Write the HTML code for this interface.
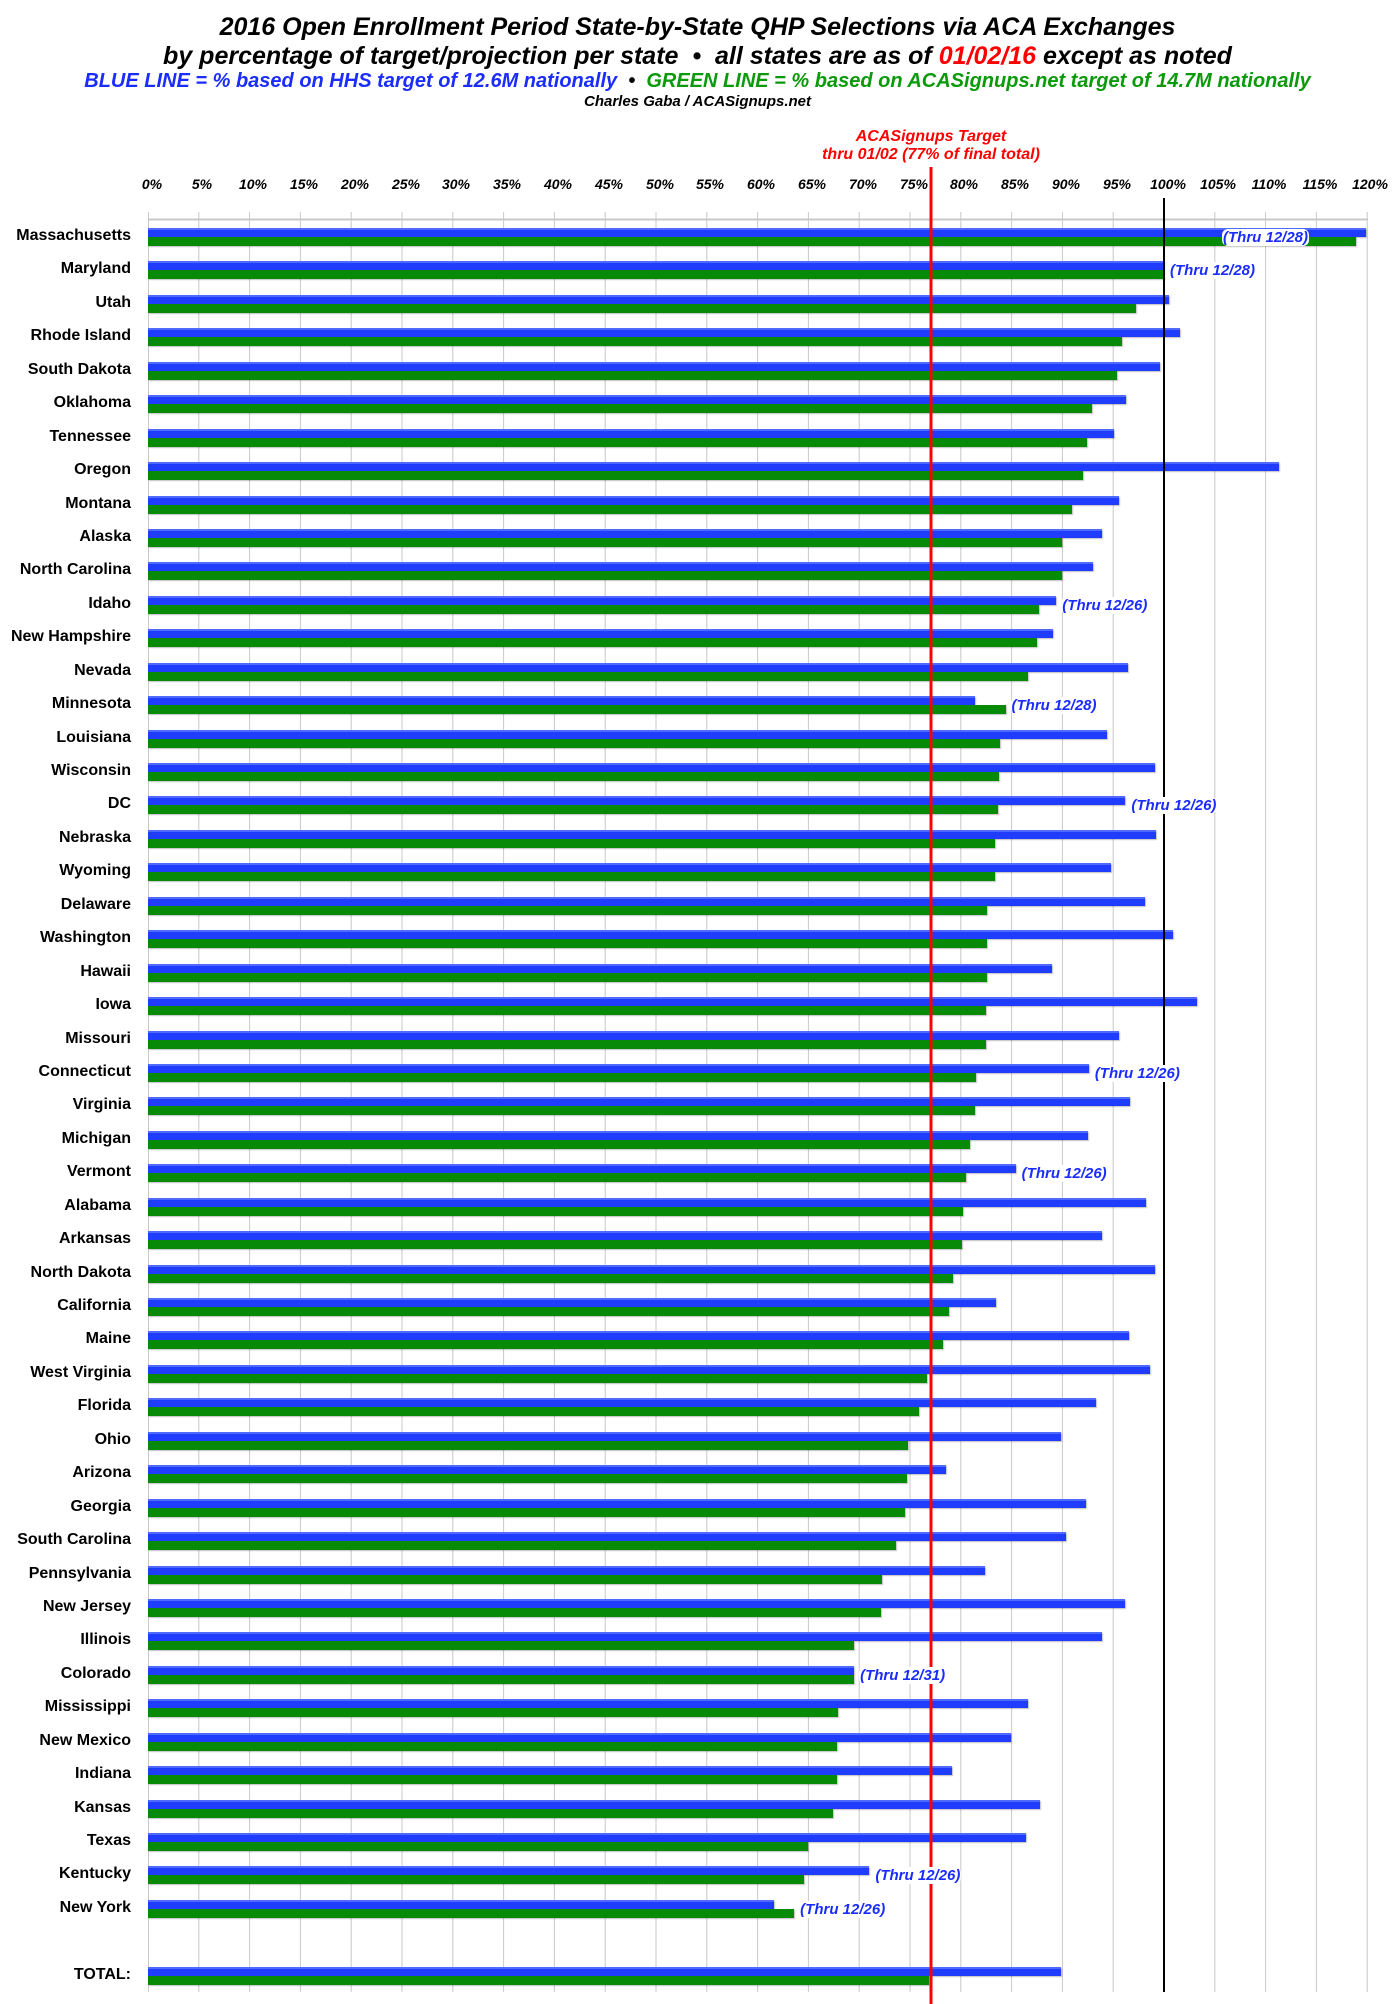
<!DOCTYPE html>
<html><head><meta charset="utf-8">
<style>
*{margin:0;padding:0;box-sizing:border-box}
body{width:1395px;height:2004px;background:#fff;position:relative;overflow:hidden;font-family:"Liberation Sans Narrow","Liberation Sans",sans-serif}
.t{position:absolute;left:0;width:1395px;text-align:center;font-weight:bold;font-style:italic;white-space:nowrap}
#rows{position:absolute;left:0;top:219px;width:1395px}
.r{position:relative;height:33.45px}
.l{position:absolute;left:0;width:131px;text-align:right;top:8px;font-weight:bold;font-size:16px;color:#000}
.b,.g{position:absolute;left:148px;height:9px;box-shadow:1px 1px 1px rgba(0,0,0,.25)}
.b{top:9px;background:#1f3cff;width:calc(var(--b)*10.16px);border-top:2px solid #4f6bff}
.g{top:18px;background:#078a07;width:calc(var(--g)*10.16px)}
.a{position:absolute;top:10px;left:calc(153px + var(--a)*10.16px);color:#1a2cff;font-weight:bold;font-style:italic;font-size:15px;z-index:5;background:#fff;border-radius:6px;padding:0 1px;line-height:17px}
svg{position:absolute;left:0;top:0}
.tk{position:absolute;top:176px;font-weight:bold;font-style:italic;font-size:14px;width:50px;text-align:center}
</style></head><body>
<div class="t" style="top:13px;font-size:25px">2016 Open Enrollment Period State-by-State QHP Selections via ACA Exchanges</div>
<div class="t" style="top:42px;font-size:25px">by percentage of target/projection per state &nbsp;•&nbsp; all states are as of <span style="color:#f00">01/02/16</span> except as noted</div>
<div class="t" style="top:70px;font-size:20px"><span style="color:#1a2cff">BLUE LINE = % based on HHS target of 12.6M nationally</span> &nbsp;•&nbsp; <span style="color:#0a9a0a">GREEN LINE = % based on ACASignups.net target of 14.7M nationally</span></div>
<div class="t" style="top:93px;font-size:15px">Charles Gaba / ACASignups.net</div>
<div class="t" style="top:128px;font-size:16px;color:#f00;left:931px;width:0;display:flex;justify-content:center">ACASignups Target</div>
<div class="t" style="top:146px;font-size:16px;color:#f00;left:931px;width:0;display:flex;justify-content:center">thru 01/02 (77% of final total)</div>

<svg width="1395" height="2004">
<g stroke="#c8c8c8" stroke-width="1">
<line x1="148.5" y1="212" x2="148.5" y2="1992"/>
<line x1="198.8" y1="212" x2="198.8" y2="1992"/><line x1="249.6" y1="212" x2="249.6" y2="1992"/><line x1="300.4" y1="212" x2="300.4" y2="1992"/><line x1="351.2" y1="212" x2="351.2" y2="1992"/><line x1="402" y1="212" x2="402" y2="1992"/><line x1="452.8" y1="212" x2="452.8" y2="1992"/><line x1="503.6" y1="212" x2="503.6" y2="1992"/><line x1="554.4" y1="212" x2="554.4" y2="1992"/><line x1="605.2" y1="212" x2="605.2" y2="1992"/><line x1="656" y1="212" x2="656" y2="1992"/><line x1="706.8" y1="212" x2="706.8" y2="1992"/><line x1="757.6" y1="212" x2="757.6" y2="1992"/><line x1="808.4" y1="212" x2="808.4" y2="1992"/><line x1="859.2" y1="212" x2="859.2" y2="1992"/><line x1="910" y1="212" x2="910" y2="1992"/><line x1="960.8" y1="212" x2="960.8" y2="1992"/><line x1="1011.6" y1="212" x2="1011.6" y2="1992"/><line x1="1062.4" y1="212" x2="1062.4" y2="1992"/><line x1="1113.2" y1="212" x2="1113.2" y2="1992"/><line x1="1214.8" y1="212" x2="1214.8" y2="1992"/><line x1="1265.6" y1="212" x2="1265.6" y2="1992"/><line x1="1316.4" y1="212" x2="1316.4" y2="1992"/><line x1="1367.2" y1="212" x2="1367.2" y2="1992"/>
<line x1="148" y1="219.5" x2="1368" y2="219.5" stroke-width="2"/>
</g>
</svg>

<div class="tk" style="left:127px">0%</div><div class="tk" style="left:177px">5%</div><div class="tk" style="left:228px">10%</div><div class="tk" style="left:279px">15%</div><div class="tk" style="left:330px">20%</div><div class="tk" style="left:381px">25%</div><div class="tk" style="left:431px">30%</div><div class="tk" style="left:482px">35%</div><div class="tk" style="left:533px">40%</div><div class="tk" style="left:584px">45%</div><div class="tk" style="left:635px">50%</div><div class="tk" style="left:685px">55%</div><div class="tk" style="left:736px">60%</div><div class="tk" style="left:787px">65%</div><div class="tk" style="left:838px">70%</div><div class="tk" style="left:889px">75%</div><div class="tk" style="left:939px">80%</div><div class="tk" style="left:990px">85%</div><div class="tk" style="left:1041px">90%</div><div class="tk" style="left:1092px">95%</div><div class="tk" style="left:1143px">100%</div><div class="tk" style="left:1193px">105%</div><div class="tk" style="left:1244px">110%</div><div class="tk" style="left:1295px">115%</div><div class="tk" style="left:1345px">120%</div>

<div id="rows">
<div class="r"><div class="l">Massachusetts</div><div class="b" style="--b:119.9"></div><div class="g" style="--g:118.9"></div><div class="a" style="left:1222px">(Thru 12/28)</div></div>
<div class="r"><div class="l">Maryland</div><div class="b" style="--b:100"></div><div class="g" style="--g:100"></div><div class="a" style="--a:100">(Thru 12/28)</div></div>
<div class="r"><div class="l">Utah</div><div class="b" style="--b:100.5"></div><div class="g" style="--g:97.2"></div></div>
<div class="r"><div class="l">Rhode Island</div><div class="b" style="--b:101.6"></div><div class="g" style="--g:95.9"></div></div>
<div class="r"><div class="l">South Dakota</div><div class="b" style="--b:99.6"></div><div class="g" style="--g:95.4"></div></div>
<div class="r"><div class="l">Oklahoma</div><div class="b" style="--b:96.3"></div><div class="g" style="--g:92.9"></div></div>
<div class="r"><div class="l">Tennessee</div><div class="b" style="--b:95.1"></div><div class="g" style="--g:92.4"></div></div>
<div class="r"><div class="l">Oregon</div><div class="b" style="--b:111.3"></div><div class="g" style="--g:92.0"></div></div>
<div class="r"><div class="l">Montana</div><div class="b" style="--b:95.6"></div><div class="g" style="--g:90.9"></div></div>
<div class="r"><div class="l">Alaska</div><div class="b" style="--b:93.9"></div><div class="g" style="--g:90.0"></div></div>
<div class="r"><div class="l">North Carolina</div><div class="b" style="--b:93.0"></div><div class="g" style="--g:90.0"></div></div>
<div class="r"><div class="l">Idaho</div><div class="b" style="--b:89.4"></div><div class="g" style="--g:87.7"></div><div class="a" style="--a:89.4">(Thru 12/26)</div></div>
<div class="r"><div class="l">New Hampshire</div><div class="b" style="--b:89.1"></div><div class="g" style="--g:87.5"></div></div>
<div class="r"><div class="l">Nevada</div><div class="b" style="--b:96.5"></div><div class="g" style="--g:86.6"></div></div>
<div class="r"><div class="l">Minnesota</div><div class="b" style="--b:81.4"></div><div class="g" style="--g:84.4"></div><div class="a" style="--a:84.4">(Thru 12/28)</div></div>
<div class="r"><div class="l">Louisiana</div><div class="b" style="--b:94.4"></div><div class="g" style="--g:83.9"></div></div>
<div class="r"><div class="l">Wisconsin</div><div class="b" style="--b:99.1"></div><div class="g" style="--g:83.8"></div></div>
<div class="r"><div class="l">DC</div><div class="b" style="--b:96.2"></div><div class="g" style="--g:83.7"></div><div class="a" style="--a:96.2">(Thru 12/26)</div></div>
<div class="r"><div class="l">Nebraska</div><div class="b" style="--b:99.2"></div><div class="g" style="--g:83.4"></div></div>
<div class="r"><div class="l">Wyoming</div><div class="b" style="--b:94.8"></div><div class="g" style="--g:83.4"></div></div>
<div class="r"><div class="l">Delaware</div><div class="b" style="--b:98.1"></div><div class="g" style="--g:82.6"></div></div>
<div class="r"><div class="l">Washington</div><div class="b" style="--b:100.9"></div><div class="g" style="--g:82.6"></div></div>
<div class="r"><div class="l">Hawaii</div><div class="b" style="--b:89.0"></div><div class="g" style="--g:82.6"></div></div>
<div class="r"><div class="l">Iowa</div><div class="b" style="--b:103.2"></div><div class="g" style="--g:82.5"></div></div>
<div class="r"><div class="l">Missouri</div><div class="b" style="--b:95.6"></div><div class="g" style="--g:82.5"></div></div>
<div class="r"><div class="l">Connecticut</div><div class="b" style="--b:92.6"></div><div class="g" style="--g:81.5"></div><div class="a" style="--a:92.6">(Thru 12/26)</div></div>
<div class="r"><div class="l">Virginia</div><div class="b" style="--b:96.7"></div><div class="g" style="--g:81.4"></div></div>
<div class="r"><div class="l">Michigan</div><div class="b" style="--b:92.5"></div><div class="g" style="--g:80.9"></div></div>
<div class="r"><div class="l">Vermont</div><div class="b" style="--b:85.4"></div><div class="g" style="--g:80.5"></div><div class="a" style="--a:85.4">(Thru 12/26)</div></div>
<div class="r"><div class="l">Alabama</div><div class="b" style="--b:98.2"></div><div class="g" style="--g:80.2"></div></div>
<div class="r"><div class="l">Arkansas</div><div class="b" style="--b:93.9"></div><div class="g" style="--g:80.1"></div></div>
<div class="r"><div class="l">North Dakota</div><div class="b" style="--b:99.1"></div><div class="g" style="--g:79.2"></div></div>
<div class="r"><div class="l">California</div><div class="b" style="--b:83.5"></div><div class="g" style="--g:78.8"></div></div>
<div class="r"><div class="l">Maine</div><div class="b" style="--b:96.6"></div><div class="g" style="--g:78.2"></div></div>
<div class="r"><div class="l">West Virginia</div><div class="b" style="--b:98.6"></div><div class="g" style="--g:76.7"></div></div>
<div class="r"><div class="l">Florida</div><div class="b" style="--b:93.3"></div><div class="g" style="--g:75.9"></div></div>
<div class="r"><div class="l">Ohio</div><div class="b" style="--b:89.9"></div><div class="g" style="--g:74.8"></div></div>
<div class="r"><div class="l">Arizona</div><div class="b" style="--b:78.5"></div><div class="g" style="--g:74.7"></div></div>
<div class="r"><div class="l">Georgia</div><div class="b" style="--b:92.3"></div><div class="g" style="--g:74.5"></div></div>
<div class="r"><div class="l">South Carolina</div><div class="b" style="--b:90.4"></div><div class="g" style="--g:73.6"></div></div>
<div class="r"><div class="l">Pennsylvania</div><div class="b" style="--b:82.4"></div><div class="g" style="--g:72.2"></div></div>
<div class="r"><div class="l">New Jersey</div><div class="b" style="--b:96.2"></div><div class="g" style="--g:72.1"></div></div>
<div class="r"><div class="l">Illinois</div><div class="b" style="--b:93.9"></div><div class="g" style="--g:69.5"></div></div>
<div class="r"><div class="l">Colorado</div><div class="b" style="--b:69.5"></div><div class="g" style="--g:69.5"></div><div class="a" style="--a:69.5">(Thru 12/31)</div></div>
<div class="r"><div class="l">Mississippi</div><div class="b" style="--b:86.6"></div><div class="g" style="--g:67.9"></div></div>
<div class="r"><div class="l">New Mexico</div><div class="b" style="--b:84.9"></div><div class="g" style="--g:67.8"></div></div>
<div class="r"><div class="l">Indiana</div><div class="b" style="--b:79.1"></div><div class="g" style="--g:67.8"></div></div>
<div class="r"><div class="l">Kansas</div><div class="b" style="--b:87.8"></div><div class="g" style="--g:67.4"></div></div>
<div class="r"><div class="l">Texas</div><div class="b" style="--b:86.4"></div><div class="g" style="--g:65.0"></div></div>
<div class="r"><div class="l">Kentucky</div><div class="b" style="--b:71.0"></div><div class="g" style="--g:64.6"></div><div class="a" style="--a:71.0">(Thru 12/26)</div></div>
<div class="r"><div class="l">New York</div><div class="b" style="--b:61.6"></div><div class="g" style="--g:63.6"></div><div class="a" style="--a:63.6">(Thru 12/26)</div></div>
<div class="r"></div>
<div class="r"><div class="l">TOTAL:</div><div class="b" style="--b:89.9"></div><div class="g" style="--g:76.9"></div></div>
</div>

<svg width="1395" height="2004" style="z-index:4">
<line x1="1164" y1="198" x2="1164" y2="1992" stroke="#000" stroke-width="2"/>
<line x1="931" y1="167" x2="931" y2="2004" stroke="#f00" stroke-width="3"/>
</svg>
</body></html>
